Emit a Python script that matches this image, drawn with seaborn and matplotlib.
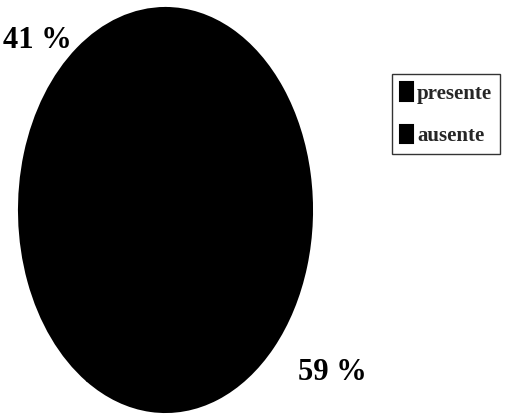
import matplotlib
matplotlib.use("Agg")
import matplotlib.pyplot as plt
import seaborn as sns

categories = ["presente", "ausente"]
values = [41, 59]
pct_labels = ["41 %", "59 %"]

sns.set_theme(style="white")
plt.rcParams['font.family'] = ['Liberation Serif', 'DejaVu Serif']

fig = plt.figure(figsize=(5.07, 4.19), dpi=100)
W, H = 507, 419
ax = fig.add_axes([19 / W, (H - 412) / H, 293 / W, 404 / H])
colors = ["black", "black"]
wedges, _ = ax.pie(values, colors=colors, startangle=90, counterclock=True,
                   wedgeprops=dict(edgecolor="black", linewidth=1.5))
ax.set_xlim(-1, 1)
ax.set_ylim(-1, 1)
ax.set_aspect('auto')
ax.axis('off')

fig.text(37 / W, 1 - 40 / H, pct_labels[0], ha='center', va='center',
         fontsize=22, fontweight='bold', color='black')
fig.text(332 / W, 1 - 372 / H, pct_labels[1], ha='center', va='center',
         fontsize=22, fontweight='bold', color='black')

leg = fig.legend(wedges, categories, loc='upper left',
                 bbox_to_anchor=(392 / W, 1 - 74 / H), borderaxespad=0,
                 frameon=True, fancybox=False, handlelength=0.6, handleheight=1.0,
                 handletextpad=0.2, borderpad=0.4, labelspacing=1.0,
                 prop=dict(family='Liberation Serif', weight='bold', size=15))
leg.get_frame().set_edgecolor('black')
leg.get_frame().set_linewidth(1.0)

fig.savefig("out.png", dpi=100, facecolor='white')
